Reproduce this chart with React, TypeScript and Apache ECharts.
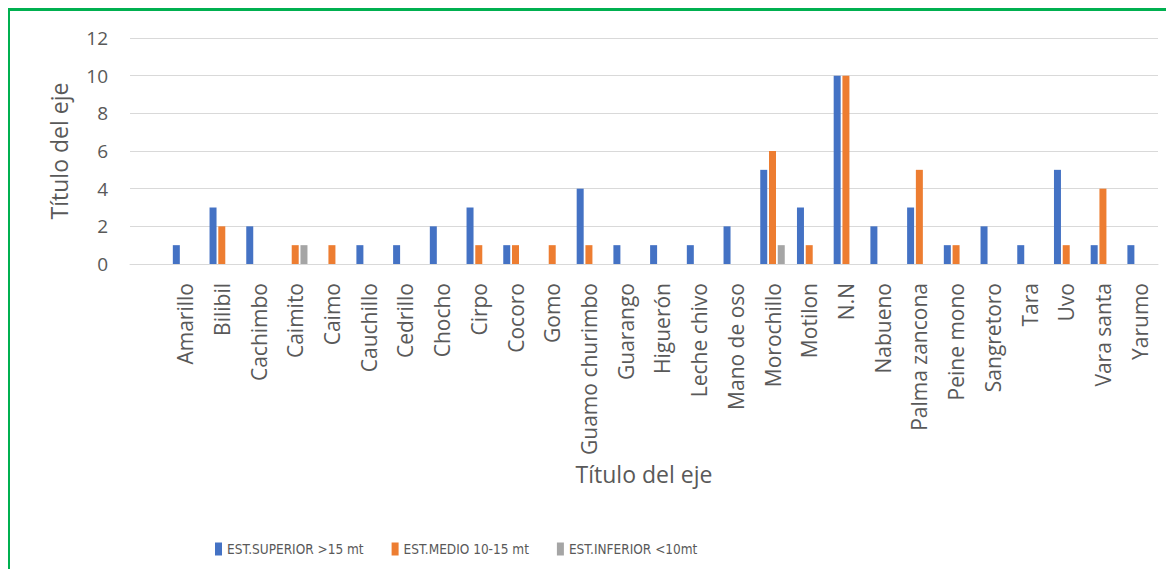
import React, { useEffect, useRef } from "react";
import * as echarts from "echarts";

const categories = [
  "", "Amarillo", "Bilibil", "Cachimbo", "Caimito", "Caimo", "Cauchillo", "Cedrillo",
  "Chocho", "Cirpo", "Cocoro", "Gomo", "Guamo churimbo", "Guarango", "Higuerón",
  "Leche chivo", "Mano de oso", "Morochillo", "Motilon", "N.N", "Nabueno",
  "Palma zancona", "Peine mono", "Sangretoro", "Tara", "Uvo", "Vara santa", "Yarumo",
];

const superior = [0, 1, 3, 2, 0, 0, 1, 1, 2, 3, 1, 0, 4, 1, 1, 1, 2, 5, 3, 10, 2, 3, 1, 2, 1, 5, 1, 1];
const medio = [0, 0, 2, 0, 1, 1, 0, 0, 0, 1, 1, 1, 1, 0, 0, 0, 0, 6, 1, 10, 0, 5, 1, 0, 0, 1, 4, 0];
const inferior = [0, 0, 0, 0, 1, 0, 0, 0, 0, 0, 0, 0, 0, 0, 0, 0, 0, 1, 0, 0, 0, 0, 0, 0, 0, 0, 0, 0];

const seriesNames = ["EST.SUPERIOR >15 mt", "EST.MEDIO 10-15 mt", "EST.INFERIOR <10mt"];
const colors = ["#4472C4", "#ED7D31", "#A5A5A5"];
const yTicks = { min: 0, max: 12, interval: 2 };

const FONT = "'Open Sans', 'Noto Sans', sans-serif";
const NARROW = "'DejaVu Sans Condensed', sans-serif";
const TXT = "#595959";

export default function App() {
  const ref = useRef<HTMLDivElement>(null);
  useEffect(() => {
    if (!ref.current) return;
    const chart = echarts.init(ref.current, null, { renderer: "svg" });
    const data = [superior, medio, inferior];
    chart.setOption({
      animation: false,
      textStyle: { fontFamily: FONT, color: TXT },
      grid: { left: 122, top: 30, right: 8, bottom: 305, containLabel: false },
      legend: {
        left: 202,
        top: 529,
        itemWidth: 7,
        itemHeight: 13,
        itemGap: 28,
        icon: "rect",
        textStyle: { fontFamily: NARROW, fontSize: 13.5, color: TXT },
        data: seriesNames,
      },
      xAxis: {
        type: "category",
        data: categories,
        name: "Título del eje",
        nameLocation: "middle",
        nameGap: 198,
        nameTextStyle: { fontFamily: FONT, fontSize: 23, color: TXT },
        axisLine: { lineStyle: { color: "#D9D9D9", width: 1 } },
        axisTick: { show: false },
        axisLabel: {
          rotate: 90,
          interval: 0,
          margin: 19,
          fontFamily: FONT,
          fontSize: 21,
          color: TXT,
        },
      },
      yAxis: {
        type: "value",
        min: yTicks.min,
        max: yTicks.max,
        interval: yTicks.interval,
        name: "Título del eje",
        nameLocation: "middle",
        nameGap: 60,
        nameTextStyle: { fontFamily: FONT, fontSize: 23, color: TXT },
        axisLine: { show: false },
        axisTick: { show: false },
        axisLabel: { margin: 22, fontFamily: FONT, fontSize: 19, color: TXT },
        splitLine: { lineStyle: { color: "#D9D9D9", width: 1 } },
      },
      graphic: [
        { type: "rect", shape: { x: -1, y: 0, width: 3, height: 561 }, style: { fill: "#00B050" } },
        { type: "rect", shape: { x: -1, y: 0, width: 1160, height: 3 }, style: { fill: "#00B050" } },
      ],
      series: data.map((d, i) => ({
        name: seriesNames[i],
        type: "bar",
        data: d,
        barWidth: 7,
        barGap: "25%",
        itemStyle: { color: colors[i] },
      })),
    });
    return () => chart.dispose();
  }, []);
  return <div ref={ref} style={{ width: 1158, height: 561 }} />;
}
